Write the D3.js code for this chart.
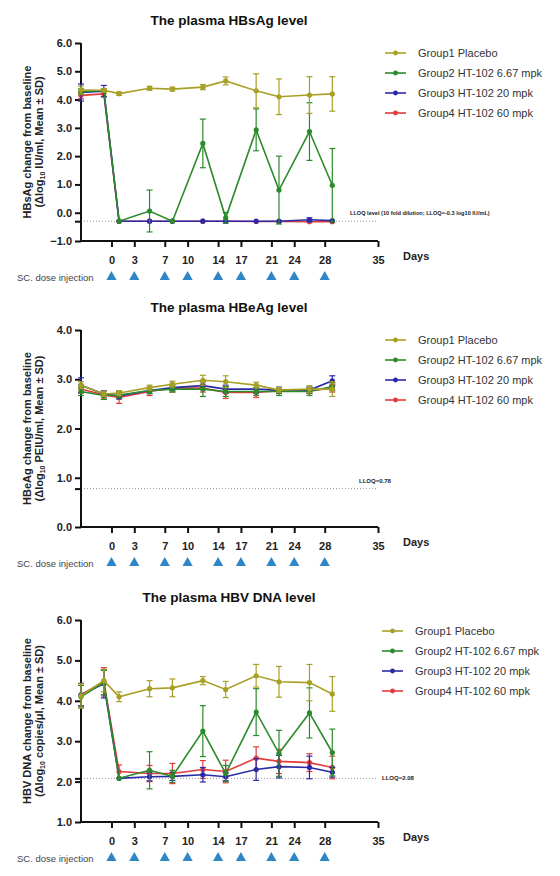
<!DOCTYPE html>
<html><head><meta charset="utf-8">
<script src="https://cdn.jsdelivr.net/npm/d3@7"></script>
<style>
body{margin:0;background:#fff;}
svg{display:block;font-family:"Liberation Sans",Arial,sans-serif;}
</style></head>
<body>
<svg id="chart" width="560" height="876"></svg>
<script>
// ---------------- DATA ----------------
const days = [-4, -1, 1, 5, 8, 12, 15, 19, 22, 26, 29];
const tickDays = [0, 3, 7, 10, 14, 17, 21, 24, 28, 35];
const doseDays = [0, 3, 7, 10, 14, 17, 21, 24, 28];
const groupNames = ["Group1 Placebo", "Group2 HT-102 6.67 mpk", "Group3 HT-102 20 mpk", "Group4 HT-102 60 mpk"];
const groupColors = ["#a8a025", "#2b8a2b", "#2a2aa8", "#e23c3c"];

// HBsAg
const hbsagG1 = [4.34, 4.33, 4.21, 4.40, 4.37, 4.44, 4.66, 4.31, 4.10, 4.16, 4.20];
const hbsagG1sd = [0.14, 0.06, 0.06, 0.07, 0.07, 0.09, 0.14, 0.60, 0.63, 0.65, 0.61];
const hbsagG2 = [4.28, 4.32, -0.30, 0.06, -0.30, 2.45, -0.18, 2.93, 0.80, 2.87, 0.97];
const hbsagG2sd = [0.10, 0.05, 0.00, 0.74, 0.00, 0.86, 0.19, 0.74, 1.20, 1.02, 1.30];
const hbsagG3 = [4.25, 4.30, -0.30, -0.30, -0.30, -0.30, -0.30, -0.30, -0.30, -0.25, -0.28];
const hbsagG3sd = [0.30, 0.20, 0.00, 0.00, 0.00, 0.00, 0.00, 0.00, 0.00, 0.07, 0.00];
const hbsagG4 = [4.15, 4.20, -0.30, -0.30, -0.30, -0.30, -0.30, -0.31, -0.31, -0.32, -0.32];
const hbsagG4sd = [0.12, 0.10, 0.00, 0.00, 0.00, 0.00, 0.00, 0.00, 0.00, 0.00, 0.00];
const hbsagLLOQ = -0.3;

// HBeAg
const hbeagG1 = [2.88, 2.70, 2.72, 2.83, 2.90, 2.98, 2.95, 2.88, 2.78, 2.80, 2.80];
const hbeagG1sd = [0.07, 0.05, 0.05, 0.05, 0.06, 0.10, 0.12, 0.06, 0.05, 0.07, 0.15];
const hbeagG2 = [2.75, 2.67, 2.68, 2.77, 2.80, 2.80, 2.75, 2.75, 2.75, 2.75, 2.85];
const hbeagG2sd = [0.08, 0.08, 0.06, 0.06, 0.06, 0.15, 0.10, 0.08, 0.08, 0.08, 0.08];
const hbeagG3 = [2.88, 2.70, 2.66, 2.77, 2.83, 2.87, 2.80, 2.80, 2.78, 2.78, 2.97];
const hbeagG3sd = [0.15, 0.06, 0.06, 0.06, 0.06, 0.08, 0.08, 0.08, 0.06, 0.06, 0.10];
const hbeagG4 = [2.80, 2.68, 2.63, 2.75, 2.82, 2.82, 2.73, 2.73, 2.77, 2.77, 2.82];
const hbeagG4sd = [0.08, 0.08, 0.12, 0.08, 0.08, 0.08, 0.12, 0.10, 0.06, 0.06, 0.08];
const hbeagLLOQ = 0.78;

// HBV DNA
const dnaG1 = [4.12, 4.50, 4.10, 4.30, 4.32, 4.50, 4.28, 4.62, 4.47, 4.45, 4.17];
const dnaG1sd = [0.30, 0.28, 0.12, 0.20, 0.22, 0.10, 0.20, 0.28, 0.38, 0.45, 0.43];
const dnaG2 = [4.10, 4.45, 2.08, 2.28, 2.13, 3.25, 2.20, 3.72, 2.70, 3.70, 2.72];
const dnaG2sd = [0.28, 0.30, 0.00, 0.46, 0.15, 0.63, 0.20, 0.58, 0.57, 0.62, 0.58];
const dnaG3 = [4.15, 4.42, 2.08, 2.12, 2.13, 2.17, 2.12, 2.30, 2.37, 2.35, 2.23];
const dnaG3sd = [0.28, 0.35, 0.00, 0.10, 0.10, 0.18, 0.10, 0.27, 0.28, 0.28, 0.12];
const dnaG4 = [4.15, 4.47, 2.25, 2.20, 2.20, 2.30, 2.25, 2.58, 2.50, 2.47, 2.35];
const dnaG4sd = [0.28, 0.35, 0.16, 0.20, 0.25, 0.22, 0.28, 0.28, 0.30, 0.22, 0.28];
const dnaLLOQ = 2.08;

const panels = [
  {title: "The plasma HBsAg level", yLabel1: "HBsAg change from baseline", yLabelPre: "(\u0394log", yLabelPost: " IU/ml, Mean \u00b1 SD)",
   yDomain: [-1, 6], yTicks: [-1, 0, 1, 2, 3, 4, 5, 6], lloq: hbsagLLOQ, lloqText: "LLOQ level (10 fold dilution; LLOQ=-0.3 log10 IU/mL)",
   means: [hbsagG1, hbsagG2, hbsagG3, hbsagG4], sds: [hbsagG1sd, hbsagG2sd, hbsagG3sd, hbsagG4sd]},
  {title: "The plasma HBeAg level", yLabel1: "HBeAg change from baseline", yLabelPre: "(\u0394log", yLabelPost: " PEIU/ml, Mean \u00b1 SD)",
   yDomain: [0, 4], yTicks: [0, 1, 2, 3, 4], lloq: hbeagLLOQ, lloqText: "LLOQ=0.78",
   means: [hbeagG1, hbeagG2, hbeagG3, hbeagG4], sds: [hbeagG1sd, hbeagG2sd, hbeagG3sd, hbeagG4sd]},
  {title: "The plasma HBV DNA level", yLabel1: "HBV DNA change from baseline", yLabelPre: "(\u0394log", yLabelPost: " copies/\u03bcl, Mean \u00b1 SD)",
   yDomain: [1, 6], yTicks: [1, 2, 3, 4, 5, 6], lloq: dnaLLOQ, lloqText: "LLOQ=2.08",
   means: [dnaG1, dnaG2, dnaG3, dnaG4], sds: [dnaG1sd, dnaG2sd, dnaG3sd, dnaG4sd]}
];

// ---------------- LAYOUT ----------------
const layout = [
  {top: 43, bottom: 241, titleY: 25, lloqX: 350, lloqY: 215, lloqSize: 5.6, legendY: 53, legendX: 385},
  {top: 330, bottom: 527, titleY: 312, lloqX: 359, lloqY: 483, lloqSize: 6, legendY: 340, legendX: 385},
  {top: 620, bottom: 822, titleY: 602, lloqX: 382, lloqY: 780, lloqSize: 6, legendY: 631, legendX: 382}
];
const xLeft = 81, xRight = 378;
const drawOrder = [3, 2, 1, 0];

const svg = d3.select("#chart");
const x = d3.scaleLinear().domain([-4, 35]).range([xLeft, xRight]);

panels.forEach((p, pi) => {
  const L = layout[pi];
  const y = d3.scaleLinear().domain(p.yDomain).range([L.bottom, L.top]);
  const g = svg.append("g");

  // title
  g.append("text").attr("x", 229).attr("y", L.titleY).attr("text-anchor", "middle")
    .attr("font-size", 13.5).attr("font-weight", "bold").attr("fill", "#111").text(p.title);

  // LLOQ dotted line
  g.append("line").attr("x1", xLeft).attr("x2", xRight)
    .attr("y1", y(p.lloq)).attr("y2", y(p.lloq))
    .attr("stroke", "#999").attr("stroke-width", 1).attr("stroke-dasharray", "1,2");
  g.append("text").attr("x", L.lloqX).attr("y", L.lloqY).attr("font-size", L.lloqSize)
    .attr("font-weight", "bold").attr("fill", "#222").text(p.lloqText);

  // Y axis
  const yAxis = d3.axisLeft(y).tickValues(p.yTicks.concat([p.lloq])).tickSize(6).tickPadding(3)
    .tickFormat(v => v === p.lloq ? "" : d3.format(".1f")(v));
  const ya = g.append("g").attr("transform", `translate(${xLeft},0)`).call(yAxis);
  // X axis
  const xAxis = d3.axisBottom(x).tickValues(tickDays).tickSize(6).tickPadding(9).tickFormat(d3.format("d"));
  const xa = g.append("g").attr("transform", `translate(0,${L.bottom})`).call(xAxis);
  [ya, xa].forEach(a => {
    a.select(".domain").attr("stroke", "#111").attr("stroke-width", 2);
    a.selectAll(".tick line").attr("stroke", "#111").attr("stroke-width", 2);
    a.selectAll("text").attr("font-size", 11).attr("font-weight", "bold").attr("fill", "#222")
      .attr("font-family", "Liberation Sans, Arial, sans-serif");
  });
  ya.select(".domain").attr("d", `M-0,${L.bottom}V${L.top}`);
  xa.select(".domain").attr("d", `M${xLeft},0H${xRight}`);

  // Days label
  g.append("text").attr("x", 403).attr("y", L.bottom + 19).attr("font-size", 11)
    .attr("font-weight", "bold").attr("fill", "#222").text("Days");

  // Y label
  const cy = (L.top + L.bottom) / 2;
  const yl = g.append("text").attr("transform", `translate(31,${cy}) rotate(-90)`).attr("text-anchor", "middle")
    .attr("font-size", 11).attr("font-weight", "bold").attr("fill", "#222");
  yl.append("tspan").attr("x", 0).attr("y", 0).text(p.yLabel1);
  const l2 = g.append("text").attr("transform", `translate(43,${cy}) rotate(-90)`).attr("text-anchor", "middle")
    .attr("font-size", 11).attr("font-weight", "bold").attr("fill", "#222");
  l2.append("tspan").text(p.yLabelPre);
  l2.append("tspan").attr("font-size", 7).attr("dy", 2).text("10");
  l2.append("tspan").attr("dy", -2).text(p.yLabelPost);

  // Dose injection
  g.append("text").attr("x", 17).attr("y", L.bottom + 40).attr("font-size", 9.5).attr("fill", "#444")
    .text("SC. dose injection");
  g.selectAll(".tri").data(doseDays).enter().append("path")
    .attr("d", d3.symbol().type(d3.symbolTriangle).size(45))
    .attr("transform", d => `translate(${x(d)},${L.bottom + 36})`)
    .attr("fill", "#2f86c6");

  // Series
  const line = d3.line().x(d => x(d.day)).y(d => y(d.v));
  drawOrder.forEach(gi => {
    const data = days.map((d, i) => ({day: d, v: p.means[gi][i], sd: p.sds[gi][i]}));
    const c = groupColors[gi];
    const sg = g.append("g");
    // error bars
    data.forEach(d => {
      if (d.sd <= 0) return;
      const y1 = y(d.v + d.sd), y2 = y(d.v - d.sd), cx = x(d.day);
      sg.append("line").attr("x1", cx).attr("x2", cx).attr("y1", y1).attr("y2", y2).attr("stroke", c).attr("stroke-width", 1.2);
      sg.append("line").attr("x1", cx - 3).attr("x2", cx + 3).attr("y1", y1).attr("y2", y1).attr("stroke", c).attr("stroke-width", 1.2);
      sg.append("line").attr("x1", cx - 3).attr("x2", cx + 3).attr("y1", y2).attr("y2", y2).attr("stroke", c).attr("stroke-width", 1.2);
    });
    sg.append("path").datum(data).attr("d", line).attr("fill", "none").attr("stroke", c).attr("stroke-width", 1.6);
    sg.selectAll("circle").data(data).enter().append("circle")
      .attr("cx", d => x(d.day)).attr("cy", d => y(d.v)).attr("r", 2.6).attr("fill", c);
  });

  // Legend
  groupNames.forEach((name, gi) => {
    const ly = L.legendY + gi * 20;
    g.append("line").attr("x1", L.legendX).attr("x2", L.legendX + 21).attr("y1", ly).attr("y2", ly)
      .attr("stroke", groupColors[gi]).attr("stroke-width", 1.6);
    g.append("circle").attr("cx", L.legendX + 10.5).attr("cy", ly).attr("r", 2.4).attr("fill", groupColors[gi]);
    g.append("text").attr("x", L.legendX + 33).attr("y", ly + 4).attr("font-size", 11).attr("fill", "#333").text(name);
  });
});
</script>
</body></html>
